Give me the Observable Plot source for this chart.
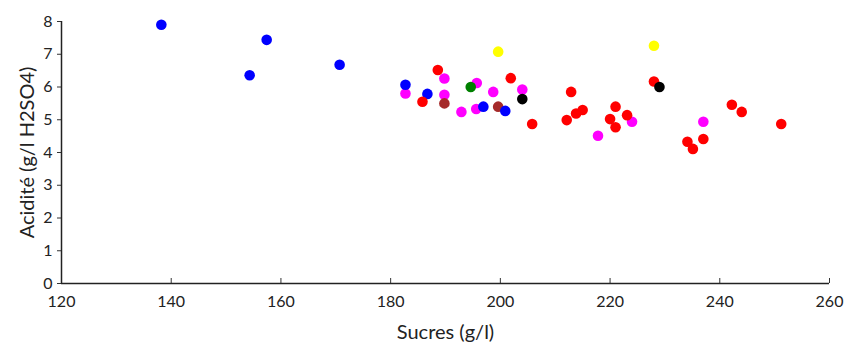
<!DOCTYPE html>
<html>
<head>
<meta charset="utf-8">
<script src="https://cdn.jsdelivr.net/npm/d3@7"></script>
<script src="https://cdn.jsdelivr.net/npm/@observablehq/plot@0.6"></script>
<style>
  html, body { margin: 0; padding: 0; background: #fff; }
  #chart { width: 852px; height: 347px; }
</style>
</head>
<body>
<div id="chart"></div>
<script>
// Sucres (g/l) and Acidité (g/l H2SO4), one pair of arrays per colour group
const magentaX = [182.7, 189.8, 189.8, 195.7, 192.9, 195.6, 198.7, 204.0, 217.8, 224.0, 237.0];
const magentaY = [5.80, 6.26, 5.76, 6.12, 5.24, 5.33, 5.85, 5.92, 4.51, 4.94, 4.94];
const greenX = [194.6];
const greenY = [6.00];
const brownX = [189.8, 199.6];
const brownY = [5.50, 5.40];
const blueX = [138.2, 154.3, 157.4, 170.7, 182.7, 186.7, 196.9, 200.9];
const blueY = [7.90, 6.36, 7.44, 6.68, 6.07, 5.79, 5.40, 5.27];
const redX = [188.6, 185.8, 201.9, 205.8, 212.1, 212.9, 213.8, 215.0, 221.0, 220.0, 221.0, 223.1, 228.0, 234.1, 235.1, 237.0, 242.2, 244.0, 251.2];
const redY = [6.52, 5.55, 6.27, 4.87, 4.99, 5.85, 5.19, 5.30, 5.40, 5.02, 4.77, 5.14, 6.17, 4.33, 4.11, 4.41, 5.46, 5.24, 4.87];
const blackX = [204.0, 229.0];
const blackY = [5.63, 6.00];
const yellowX = [199.6, 228.0];
const yellowY = [7.08, 7.26];

const groups = ["magenta", "green", "brown", "blue", "red", "black", "yellow"];
const colors = ["#e020e0", "#1f7a1f", "#a0401a", "#0505bb", "#d81010", "#000000", "#f2ee1c"];
const xTicks = [120, 140, 160, 180, 200, 220, 240, 260];
const yTicks = [0, 1, 2, 3, 4, 5, 6, 7, 8];

const series = {
  magenta: [magentaX, magentaY], green: [greenX, greenY], brown: [brownX, brownY],
  blue: [blueX, blueY], red: [redX, redY], black: [blackX, blackY], yellow: [yellowX, yellowY]
};
const data = groups.flatMap(g => series[g][0].map((x, i) => ({group: g, x, y: series[g][1][i]})));

const chart = Plot.plot({
  width: 852,
  height: 347,
  marginLeft: 61,
  marginRight: 23,
  marginTop: 21,
  marginBottom: 64,
  style: {fontFamily: "Lato, 'Open Sans', sans-serif", fontSize: "16px", color: "#222", background: "#fff"},
  x: {domain: [120, 260]},
  y: {domain: [0, 8]},
  color: {domain: groups, range: colors},
  marks: [
    Plot.axisX({ticks: xTicks, tickSize: -5, tickPadding: 17, fontSize: 16, label: null, stroke: "#333"}),
    Plot.axisY({ticks: yTicks, tickSize: 4, tickPadding: 5, fontSize: 16, label: null, stroke: "#333"}),
    Plot.ruleY([0], {stroke: "#222", strokeWidth: 1.5}),
    Plot.ruleX([120], {stroke: "#222", strokeWidth: 1.5}),
    Plot.dot(data, {x: "x", y: "y", fill: "group", r: 5.3}),
    Plot.text(["Sucres (g/l)"], {frameAnchor: "bottom", dy: 55, fontSize: 20, fill: "#222"}),
    Plot.text(["Acidité (g/l H2SO4)"], {frameAnchor: "left", textAnchor: "middle", dx: -34, rotate: -90, fontSize: 20, fill: "#222"})
  ]
});
document.getElementById("chart").appendChild(chart);
</script>
</body>
</html>
